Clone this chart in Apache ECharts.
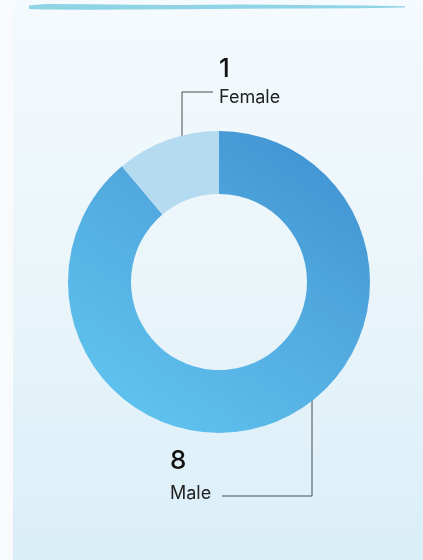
<!DOCTYPE html>
<html>
<head>
<meta charset="utf-8">
<style>
  html, body { margin: 0; padding: 0; background: #f8fafb; }
  #chart { width: 423px; height: 560px; }
</style>
<script src="https://cdn.jsdelivr.net/npm/echarts@6/dist/echarts.min.js"></script>
</head>
<body>
<div id="chart"></div>
<script>
// Gender split of the group
const categories = ['Male', 'Female'];
const counts = [8, 1];

const sliceColors = [
  new echarts.graphic.LinearGradient(1, 0, 0.3, 1, [
    { offset: 0, color: '#3c8ecf' },
    { offset: 0.5, color: '#52a9df' },
    { offset: 1, color: '#5fc2ee' }
  ]),
  '#b4dbef'
];

// leader-line routes and label anchors for each slice
const leaders = {
  Male:   { points: [[312, 389], [312, 496], [222, 496]], x: 170, y: 446 },
  Female: { points: [[182, 151], [182, 92], [213, 92]],  x: 219, y: 54 }
};

const numStyle = { fontFamily: 'Inter', fontSize: 26, fontWeight: 500, color: '#111', lineHeight: 30 };

const chart = echarts.init(document.getElementById('chart'), null, { renderer: 'canvas' });

const option = {
  animation: false,
  graphic: [
    {
      type: 'rect', z: -10, silent: true,
      shape: { x: 13, y: 0, width: 410, height: 560 },
      style: {
        fill: new echarts.graphic.LinearGradient(0, 0, 0, 1, [
          { offset: 0, color: '#f4fafd' },
          { offset: 0.5, color: '#eaf5fa' },
          { offset: 1, color: '#daeef8' }
        ])
      }
    },
    {
      type: 'polygon', z: -5, silent: true,
      shape: {
        points: [[29, 5.5], [45, 4], [90, 4.2], [130, 4.8], [180, 5], [240, 4.6], [300, 5], [360, 5.6], [405, 6.3],
                 [405, 7.6], [360, 8.2], [300, 8.6], [240, 8.8], [180, 9.2], [130, 9.6], [90, 9.8], [45, 9.6], [29, 9]]
      },
      style: { fill: '#8fd4e6' }
    }
  ],
  series: [{
    type: 'pie',
    center: [219, 282],
    radius: [88, 151],
    startAngle: 90,
    clockwise: true,
    silent: true,
    emphasis: { disabled: true },
    itemStyle: { borderWidth: 0 },
    label: {
      show: true,
      position: 'outside',
      formatter: '{v|{c}}\n{n|{b}}',
      align: 'left',
      rich: {
        v: numStyle,
        n: { fontFamily: 'Inter', fontSize: 18, color: '#222', lineHeight: 36 }
      }
    },
    labelLine: {
      show: true,
      lineStyle: { color: '#4d4d4d', width: 1 }
    },
    labelLayout: function (params) {
      const name = categories[params.dataIndex];
      const l = leaders[name];
      return {
        x: l.x, y: l.y,
        align: 'left', verticalAlign: 'top',
        labelLinePoints: l.points
      };
    },
    data: categories.map((c, i) => ({
      name: c,
      value: counts[i],
      itemStyle: { color: sliceColors[i] },
      label: c === 'Female'
        ? { rich: { v: numStyle,
                    n: { fontFamily: 'Inter', fontSize: 18, color: '#222', lineHeight: 28 } } }
        : undefined
    }))
  }]
};

chart.setOption(option);
</script>
</body>
</html>
